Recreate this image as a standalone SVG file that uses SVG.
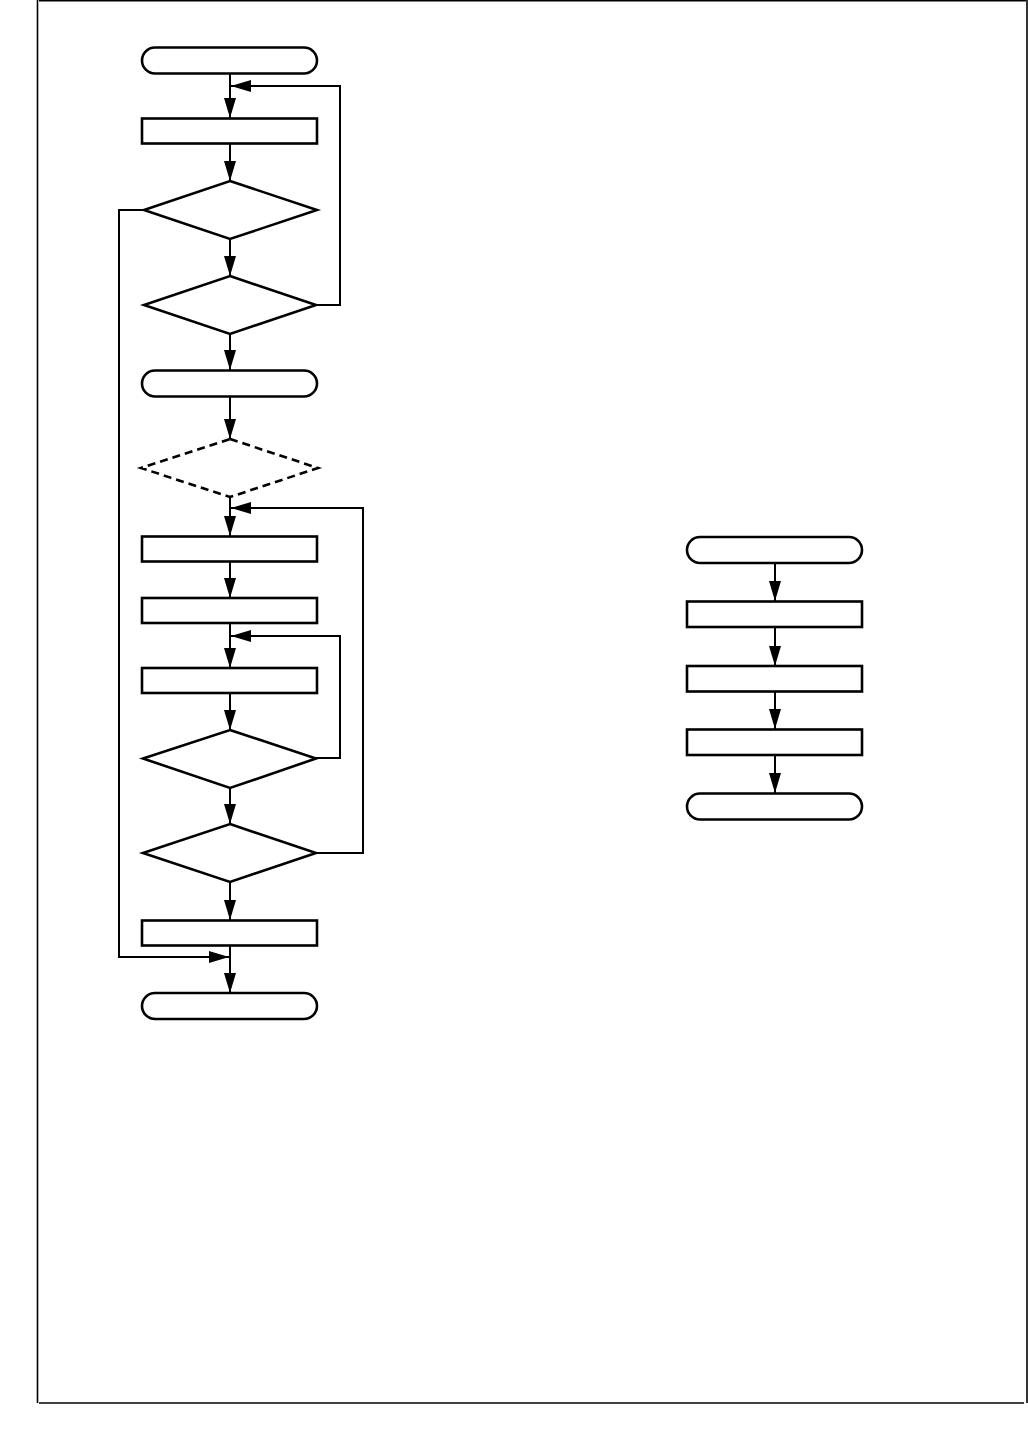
<svg xmlns="http://www.w3.org/2000/svg" width="1028" height="1436" viewBox="0 0 1028 1436">
<defs>
<marker id="ah" markerUnits="userSpaceOnUse" markerWidth="20" markerHeight="12" refX="20" refY="6" orient="auto">
<path d="M0,0 L20,6 L0,12 z" fill="#000"/>
</marker>
<style>
.n{fill:#fff;stroke:#000;stroke-width:2.6}
.d{fill:none;stroke:#000;stroke-width:2.6;stroke-dasharray:8,5}
.c{fill:none;stroke:#000;stroke-width:2}
.a{marker-end:url(#ah)}
.f{fill:none;stroke:#000;stroke-width:1.6}
</style>
</defs>
<rect width="1028" height="1436" fill="#fff"/>
<g id="frame">
<line class="f" x1="37.5" y1="0" x2="37.5" y2="1403"/>
<line class="f" x1="39" y1="0.8" x2="1026" y2="0.8"/>
<line class="f" x1="1027" y1="0" x2="1027" y2="1403"/>
<line class="f" x1="39" y1="1403" x2="1024" y2="1403"/>
</g>
<g id="connectors">
<line class="c a" x1="230" y1="74" x2="230" y2="118"/>
<line class="c a" x1="230" y1="144" x2="230" y2="181"/>
<line class="c a" x1="230" y1="239" x2="230" y2="276"/>
<line class="c a" x1="230" y1="334" x2="230" y2="370"/>
<line class="c a" x1="230" y1="397" x2="230" y2="439"/>
<line class="c a" x1="230" y1="497" x2="230" y2="536"/>
<line class="c a" x1="230" y1="562" x2="230" y2="598"/>
<line class="c a" x1="230" y1="623" x2="230" y2="668"/>
<line class="c a" x1="230" y1="693" x2="230" y2="730"/>
<line class="c a" x1="230" y1="788" x2="230" y2="824"/>
<line class="c a" x1="230" y1="882" x2="230" y2="920"/>
<line class="c a" x1="230" y1="946" x2="230" y2="993"/>
<polyline class="c a" points="316,305 340,305 340,86 231,86"/>
<polyline class="c a" points="316,758 340,758 340,636 231,636"/>
<polyline class="c a" points="316,853 363,853 363,508 231,508"/>
<polyline class="c a" points="144,210 119,210 119,957 229,957"/>
<line class="c a" x1="775" y1="563" x2="775" y2="601"/>
<line class="c a" x1="775" y1="627" x2="775" y2="666"/>
<line class="c a" x1="775" y1="692" x2="775" y2="729"/>
<line class="c a" x1="775" y1="755" x2="775" y2="793"/>
</g>
<g id="start1"><rect class="n" x="142" y="47.5" width="175" height="26" rx="13"/></g>
<g id="proc1"><rect class="n" x="142" y="118.5" width="175" height="25"/></g>
<g id="dec1"><polygon class="n" points="230,181 317,210 230,239 144,210"/></g>
<g id="dec2"><polygon class="n" points="230,276 316,305 230,334 144,305"/></g>
<g id="term2"><rect class="n" x="142" y="370.5" width="175" height="26" rx="13"/></g>
<g id="dec3"><polygon class="d" points="230,439 318,468 230,497 141,468"/></g>
<g id="proc2"><rect class="n" x="142" y="536.5" width="175" height="25"/></g>
<g id="proc3"><rect class="n" x="142" y="598" width="175" height="25"/></g>
<g id="proc4"><rect class="n" x="142" y="668" width="175" height="25"/></g>
<g id="dec4"><polygon class="n" points="230,730 316,758.5 230,788 143,758.5"/></g>
<g id="dec5"><polygon class="n" points="230,824 316,853 230,882 143,853"/></g>
<g id="proc5"><rect class="n" x="142" y="920.5" width="175" height="25"/></g>
<g id="end1"><rect class="n" x="142" y="993" width="175" height="26" rx="13"/></g>
<g id="start2"><rect class="n" x="687" y="537" width="175" height="26" rx="13"/></g>
<g id="rproc1"><rect class="n" x="687" y="601.5" width="175" height="25.5"/></g>
<g id="rproc2"><rect class="n" x="687" y="666" width="175" height="25.5"/></g>
<g id="rproc3"><rect class="n" x="687" y="729.5" width="175" height="25.5"/></g>
<g id="end2"><rect class="n" x="687" y="793.5" width="175" height="26" rx="13"/></g>
</svg>
